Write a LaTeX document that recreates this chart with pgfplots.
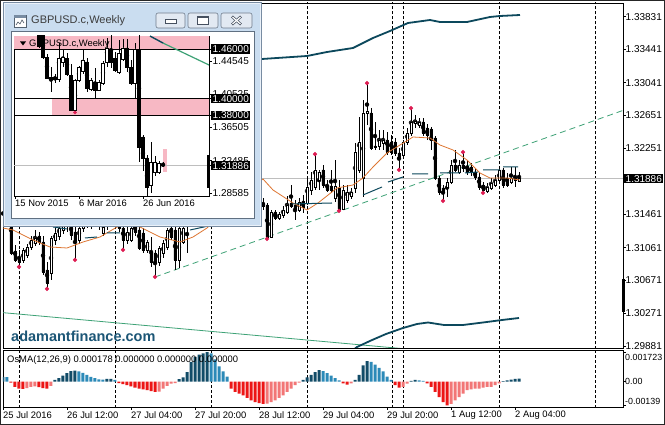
\documentclass[border=0pt]{standalone}
\usepackage{fontspec}
\setmainfont{Liberation Sans}
\usepackage{pgfplots}
\usepackage{pgfplotstable}
\pgfplotsset{compat=1.18}

\definecolor{band}{RGB}{12,72,92}
\definecolor{maor}{RGB}{222,118,50}
\definecolor{trgreen}{RGB}{62,162,118}
\definecolor{fract}{RGB}{222,28,82}
\definecolor{pu}{RGB}{18,76,104}
\definecolor{pd}{RGB}{44,138,184}
\definecolor{nd}{RGB}{236,22,22}
\definecolor{nu}{RGB}{242,118,118}
\definecolor{wm}{RGB}{28,86,118}
\definecolor{winblue}{RGB}{202,221,240}
\definecolor{winedge}{RGB}{120,140,162}
\definecolor{pinkz}{RGB}{247,184,196}
\definecolor{curline}{RGB}{190,190,190}
\definecolor{btn}{RGB}{226,233,242}
\definecolor{btnedge}{RGB}{112,124,140}
\definecolor{glyph}{RGB}{70,80,95}
\definecolor{titletext}{RGB}{60,60,60}

\newcommand\plbl{\fontsize{10}{11}\selectfont}
\newcommand\tlbl{\fontsize{9.4}{10.5}\selectfont}
\newcommand\slbl{\fontsize{8.9}{10}\selectfont}

\pgfplotsset{
  mainpos/.style={at={(3pt,77pt)}, anchor=south west, scale only axis, width=620pt, height=345pt,
    xmin=0, xmax=155, ymin=1.29856, ymax=1.33996},
  insetpos/.style={at={(14pt,229pt)}, anchor=south west, scale only axis, width=195pt, height=160pt,
    xmin=-0.25, xmax=48.5, ymin=1.28222, ymax=1.47572},
}

% H1 candles: index, open, high, low, close
\pgfplotstableread{
i o h l c
0 1.31452 1.31572 1.31368 1.31512
1 1.31512 1.31632 1.31392 1.31452
2 1.31512 1.31572 1.30972 1.30996
3 1.31020 1.31092 1.30888 1.30912
4 1.30936 1.31032 1.30840 1.30888
5 1.30912 1.31056 1.30876 1.31032
6 1.30972 1.31104 1.30936 1.31068
7 1.31068 1.31200 1.31032 1.31152
8 1.31116 1.31272 1.31080 1.31176
9 1.31200 1.31248 1.31092 1.31128
10 1.31128 1.31200 1.30732 1.30768
11 1.30792 1.30888 1.30576 1.30636
12 1.30756 1.31200 1.30672 1.31176
13 1.31152 1.31296 1.31092 1.31236
14 1.31200 1.31368 1.31152 1.31296
15 1.31272 1.31452 1.31224 1.31392
16 1.31392 1.31488 1.31248 1.31320
17 1.31320 1.31416 1.31152 1.31212
18 1.31248 1.31332 1.30924 1.31152
19 1.31152 1.31368 1.31104 1.31296
20 1.31296 1.31452 1.31248 1.31392
21 1.31392 1.31512 1.31296 1.31344
22 1.31344 1.31488 1.31284 1.31440
23 1.31416 1.31536 1.31320 1.31488
24 1.31488 1.31572 1.31272 1.31368
25 1.31236 1.31452 1.31200 1.31308
26 1.31332 1.31452 1.31272 1.31368
27 1.31368 1.31512 1.31320 1.31452
28 1.31452 1.31572 1.31296 1.31392
29 1.31392 1.31512 1.31248 1.31296
30 1.31296 1.31416 1.31044 1.31152
31 1.31152 1.31332 1.31104 1.31248
32 1.31152 1.31320 1.31128 1.31296
33 1.31320 1.31392 1.31200 1.31248
34 1.31272 1.31368 1.31032 1.31056
35 1.31236 1.31296 1.30996 1.31032
36 1.31032 1.31152 1.30996 1.31128
37 1.31008 1.31188 1.30828 1.30888
38 1.30996 1.31032 1.30720 1.30876
39 1.30888 1.31080 1.30840 1.31056
40 1.30996 1.31152 1.30936 1.31116
41 1.31068 1.31296 1.31032 1.31272
42 1.31296 1.31368 1.31152 1.31188
43 1.31272 1.31368 1.30792 1.30912
44 1.30912 1.31320 1.30816 1.31296
45 1.31128 1.31368 1.31104 1.31296
46 1.31320 1.31452 1.30996 1.31368
47 1.31368 1.31572 1.31320 1.31536
48 1.31536 1.31812 1.31488 1.31752
49 1.31752 1.31992 1.31692 1.31932
50 1.31932 1.32112 1.31848 1.32052
51 1.32052 1.32232 1.31968 1.32136
52 1.32136 1.32256 1.32016 1.32088
53 1.32088 1.32232 1.32040 1.32172
54 1.32172 1.32292 1.32052 1.32112
55 1.32112 1.32232 1.31992 1.32052
56 1.32052 1.32172 1.31932 1.31992
57 1.31992 1.32112 1.31812 1.31872
58 1.31872 1.32016 1.31776 1.31944
59 1.31944 1.32040 1.31752 1.31800
60 1.31800 1.31932 1.31692 1.31872
61 1.31872 1.31968 1.31656 1.31704
62 1.31704 1.31848 1.31632 1.31776
63 1.31776 1.31872 1.31572 1.31632
64 1.31632 1.31752 1.31512 1.31572
65 1.31596 1.31656 1.31512 1.31560
66 1.31572 1.31596 1.31176 1.31188
67 1.31188 1.31512 1.31176 1.31488
68 1.31488 1.31512 1.31392 1.31416
69 1.31416 1.31488 1.31392 1.31464
70 1.31452 1.31560 1.31416 1.31512
71 1.31488 1.31680 1.31464 1.31572
72 1.31596 1.31812 1.31536 1.31560
73 1.31572 1.31632 1.31392 1.31524
74 1.31512 1.31656 1.31488 1.31608
75 1.31620 1.31692 1.31476 1.31548
76 1.31596 1.31908 1.31572 1.31788
77 1.31752 1.31968 1.31692 1.31872
78 1.31788 1.32172 1.31752 1.31992
79 1.31872 1.31992 1.31752 1.31968
80 1.31992 1.32052 1.31776 1.31812
81 1.31812 1.31872 1.31728 1.31752
82 1.31800 1.31992 1.31716 1.31752
83 1.31656 1.32112 1.31608 1.31800
84 1.31776 1.31872 1.31512 1.31524
85 1.31524 1.31812 1.31512 1.31752
86 1.31632 1.31812 1.31596 1.31728
87 1.31680 1.31776 1.31644 1.31728
88 1.31776 1.32316 1.31716 1.32208
89 1.31992 1.32628 1.31956 1.32328
90 1.31896 1.32832 1.31668 1.32676
91 1.32676 1.33024 1.32532 1.32700
92 1.32676 1.32736 1.32232 1.32256
93 1.32280 1.32568 1.32232 1.32268
94 1.32280 1.32472 1.32232 1.32352
95 1.32316 1.32472 1.32232 1.32352
96 1.32352 1.32448 1.32172 1.32208
97 1.32328 1.32412 1.32172 1.32208
98 1.32328 1.32376 1.32160 1.32196
99 1.32196 1.32256 1.32004 1.32136
100 1.32172 1.32352 1.32136 1.32328
101 1.32328 1.32496 1.32292 1.32436
102 1.32436 1.32724 1.32400 1.32568
103 1.32556 1.32652 1.32496 1.32580
104 1.32532 1.32616 1.32496 1.32568
105 1.32568 1.32616 1.32400 1.32436
106 1.32496 1.32544 1.32352 1.32412
107 1.32484 1.32508 1.32232 1.32352
108 1.32376 1.32400 1.31872 1.31896
109 1.31896 1.31920 1.31692 1.31728
110 1.31776 1.31812 1.31632 1.31728
111 1.31788 1.31896 1.31668 1.31848
112 1.31848 1.32112 1.31824 1.32052
113 1.32052 1.32232 1.31968 1.31992
114 1.31968 1.32112 1.31944 1.32052
115 1.32052 1.32196 1.31968 1.32016
116 1.32040 1.32112 1.31932 1.31968
117 1.32028 1.32076 1.31920 1.31968
118 1.31968 1.32016 1.31872 1.31908
119 1.31908 1.31956 1.31752 1.31788
120 1.31812 1.31848 1.31728 1.31752
121 1.31740 1.31836 1.31716 1.31788
122 1.31776 1.31896 1.31752 1.31836
123 1.31812 1.31932 1.31788 1.31872
124 1.31872 1.32016 1.31836 1.31992
125 1.31992 1.32016 1.31776 1.31812
126 1.31896 1.31956 1.31788 1.31812
127 1.31848 1.32028 1.31824 1.31896
128 1.31896 1.32028 1.31788 1.31872
129 1.31860 1.31968 1.31848 1.31886
}\candles

% Weekly candles (inset): week index, open, high, low, close
\pgfplotstableread{
i o h l c
6 1.4950 1.5000 1.4610 1.4630
7 1.4780 1.4800 1.4480 1.4503
8 1.4503 1.4540 1.4237 1.4249
9 1.4249 1.4382 1.4080 1.4262
10 1.4262 1.4300 1.4190 1.4235
11 1.4235 1.4669 1.4200 1.4491
12 1.4443 1.4588 1.4382 1.4503
13 1.4491 1.4552 1.4270 1.4290
14 1.4285 1.4420 1.3850 1.3862
15 1.3862 1.4240 1.3838 1.4225
16 1.4225 1.4400 1.4200 1.4382
17 1.4330 1.4588 1.4300 1.4467
18 1.4443 1.4490 1.4080 1.4128
19 1.4116 1.4250 1.4090 1.4225
20 1.4201 1.4370 1.3995 1.4104
21 1.4104 1.4225 1.4090 1.4201
22 1.4189 1.4450 1.4170 1.4431
23 1.4443 1.4733 1.4382 1.4612
24 1.4600 1.4800 1.4370 1.4443
25 1.4491 1.4560 1.4320 1.4346
26 1.4322 1.4709 1.4300 1.4552
27 1.4480 1.4721 1.4450 1.4612
28 1.4612 1.4721 1.4322 1.4382
29 1.4382 1.4467 1.4165 1.4189
30 1.4189 1.4672 1.3995 1.4600
31 1.4588 1.5018 1.3229 1.3415
32 1.3536 1.3560 1.3121 1.3282
33 1.3282 1.3320 1.2810 1.2931
34 1.2955 1.3479 1.2858 1.3233
35 1.3112 1.3300 1.3070 1.3233
36 1.3110 1.3245 1.3090 1.3221
37 1.3210 1.3230 1.3170 1.31886
}\weekly

% OsMA histogram, split by colour class
\pgfplotstableread{
i v
0 0.00028
13 0.00010
14 0.00020
15 0.00035
16 0.00050
17 0.00062
18 0.00064
26 0.00016
27 0.00016
44 0.00015
45 0.00025
46 0.00055
47 0.00115
48 0.00145
49 0.00158
50 0.00165
51 0.00172
75 0.00010
76 0.00025
77 0.00040
78 0.00055
79 0.00068
88 0.00010
89 0.00040
90 0.00095
91 0.00120
102 0.00005
103 0.00010
125 0.00003
126 0.00008
127 0.00012
128 0.00016
129 0.000178
}\oPU
\pgfplotstableread{
i v
1 0.00026
19 0.00060
20 0.00052
21 0.00040
22 0.00028
23 0.00020
24 0.00014
25 0.00012
28 0.00010
52 0.00165
53 0.00130
54 0.00090
55 0.00060
56 0.00030
80 0.00062
81 0.00050
82 0.00035
83 0.00020
84 0.00008
92 0.00115
93 0.00100
94 0.00080
95 0.00060
96 0.00030
97 0.00010
104 0.00008
105 0.00005
}\oPD
\pgfplotstableread{
i v
2 -0.00005
3 -0.00030
4 -0.00040
5 -0.00042
9 -0.00032
10 -0.00038
11 -0.00040
29 -0.00008
30 -0.00015
31 -0.00020
32 -0.00028
33 -0.00035
34 -0.00040
35 -0.00045
36 -0.00050
37 -0.00055
38 -0.00060
57 -0.00040
58 -0.00060
59 -0.00070
60 -0.00080
61 -0.00095
62 -0.00110
63 -0.00120
64 -0.00125
65 -0.00130
85 -0.00010
86 -0.00018
98 -0.00020
99 -0.00035
106 -0.00010
107 -0.00030
108 -0.00060
109 -0.00090
110 -0.00120
111 -0.00138
}\oND
\pgfplotstableread{
i v
6 -0.00038
7 -0.00030
8 -0.00028
12 -0.00025
39 -0.00058
40 -0.00040
41 -0.00025
42 -0.00012
43 -0.00008
66 -0.00128
67 -0.00120
68 -0.00110
69 -0.00095
70 -0.00080
71 -0.00060
72 -0.00040
73 -0.00020
74 -0.00005
87 -0.00010
100 -0.00030
101 -0.00012
112 -0.00130
113 -0.00110
114 -0.00090
115 -0.00070
116 -0.00050
117 -0.00045
118 -0.00040
119 -0.00040
120 -0.00035
121 -0.00030
122 -0.00030
123 -0.00020
124 -0.00010
}\oNU

\begin{document}
\begin{tikzpicture}
\path[use as bounding box, fill=white] (0pt,0pt) rectangle (665pt,425pt);

%================ main price axis
\begin{axis}[mainpos,
  axis background/.style={fill=white},
  axis line style={black, line width=0.8pt},
  xtick=\empty,
  ytick={1.33831,1.33441,1.33041,1.32651,1.32251,1.31461,1.31061,1.30671,1.30271,1.29881},
  yticklabels={1.33831,1.33441,1.33041,1.32651,1.32251,1.31461,1.31061,1.30671,1.30271,1.29881},
  extra y ticks={1.31886}, extra y tick labels={1.31886},
  extra y tick style={yticklabel style={fill=black, text=white}},
  scaled y ticks=false,
  ytick pos=right, yticklabel pos=right,
  tick align=outside, major tick length=3pt,
  tick style={black, line width=0.6pt},
  yticklabel style={font=\plbl, anchor=west, inner xsep=1.5pt, inner ysep=1pt, xshift=-2pt},
]
\pgfplotsinvokeforeach{4,28,52,76,97.25,100,124,148}{
  \addplot[black, line width=0.7pt, dash pattern=on 3pt off 2pt] coordinates {(#1,1.29) (#1,1.35)};
}
\addplot[curline, line width=0.8pt] coordinates {(0,1.31886) (155,1.31886)};
\addplot[trgreen, line width=0.8pt] coordinates {(0,1.30280) (100,1.29848)};
\addplot[trgreen, line width=0.8pt, dash pattern=on 6pt off 4pt] coordinates {(38,1.30708) (155,1.32707)};
\addplot[band, line width=1.8pt] coordinates {
 (86,1.29772) (88.5,1.29868) (92,1.29946) (95.75,1.30024) (100,1.30096) (103.5,1.30144)
 (106.25,1.30162) (110.25,1.30132) (115,1.30132) (120,1.30162) (124.75,1.30192) (129,1.30216)};
\addplot[band, line width=1.8pt] coordinates {
 (60,1.33290) (64.75,1.33324) (76,1.33360) (81,1.33408) (87.5,1.33456) (92.5,1.33576)
 (96.75,1.33660) (101.25,1.33756) (106.75,1.33792) (109.25,1.33768) (116,1.33768)
 (121.75,1.33828) (124.25,1.33840) (129.25,1.33852)};
\addplot[black, only marks, mark=none,
  error bars/.cd, y dir=both, y explicit, error mark=none,
  error bar style={draw=black, line width=0.8pt}]
  table[x=i, y expr={(\thisrow{h}+\thisrow{l})/2}, y error expr={(\thisrow{h}-\thisrow{l})/2}] {\candles};
\end{axis}

%================ candle bodies
\begin{axis}[mainpos, hide axis, ybar stacked, bar width=2.2pt]
\addplot[draw=none, fill=none] table[x=i, y expr={min(\thisrow{o},\thisrow{c})}] {\candles};
\addplot[fill=white, draw=black, line width=0.8pt] table[x=i, y expr={max(\thisrow{c}-\thisrow{o},0)}] {\candles};
\addplot[fill=black, draw=black, line width=0.8pt] table[x=i, y expr={max(\thisrow{o}-\thisrow{c},0)}] {\candles};
\end{axis}

%================ overlays: MA, middle band, fractals
\begin{axis}[mainpos, hide axis, clip=false, unbounded coords=jump]
\addplot[maor, line width=0.8pt] coordinates {
 (0,1.31296) (2.5,1.31272) (7.5,1.31152) (11.75,1.31068) (16,1.31056) (20,1.31128)
 (24.25,1.31188) (28.5,1.31308) (31.25,1.31344) (34.25,1.31308) (39.25,1.31188)
 (44.25,1.31128) (47.5,1.31188) (51,1.31296) (54.25,1.31452) (58,1.31632) (61.75,1.31776)
 (65,1.31884) (67.5,1.31752) (72.5,1.31596) (76,1.31512) (78.75,1.31596) (83.5,1.31776)
 (87.5,1.31812) (90,1.31896) (92.5,1.32028) (96,1.32196) (99.25,1.32292) (102.5,1.32388)
 (106.75,1.32376) (109.25,1.32292) (112.5,1.32232) (116,1.32112) (119.25,1.31956)
 (121.75,1.31896) (126,1.31896) (129.25,1.31872)};
\addplot[band, line width=1pt] coordinates {
 (12.5,1.31308) (16,1.31284) (16.5,nan)
 (20.5,1.31176) (23.5,1.31188) (24,nan)
 (26,1.31236) (29.25,1.31236) (30,nan)
 (46.75,1.31272) (52.5,1.31332) (53,nan)
 (72.25,1.31584) (82.25,1.31596) (83,nan)
 (90,1.31692) (94.75,1.31788) (95,nan)
 (96.25,1.31848) (100,1.31908) (101,nan)
 (102.25,1.31944) (106.25,1.31944) (107,nan)
 (109.25,1.31956) (114.25,1.31956) (115,nan)
 (115.5,1.31956) (118.75,1.31968) (119,nan)
 (120,1.31992) (124.25,1.31992) (124.5,nan)
 (125,1.32028) (128.75,1.32028)};
\addplot[only marks, mark=*, mark size=1.9pt, color=fract] coordinates {
 (4,1.30830) (11,1.30566) (18,1.30914) (30,1.31034) (38,1.30710) (66,1.31166)
 (84,1.31502) (99,1.31994) (110,1.31622) (120,1.31718)
 (78,1.32182) (91,1.33034) (102,1.32734) (115,1.32206)};
\addplot[black, line width=3pt] coordinates {(155,1.30684) (155,1.30288)};
\end{axis}

\node[anchor=base west, text=wm, font=\fontsize{14.5}{16}\selectfont\bfseries, inner sep=0pt] at (11pt,83pt) {adamantfinance.com};

%================ OsMA sub-window
\begin{axis}[at={(3pt,18pt)}, anchor=south west, scale only axis, width=620pt, height=57pt,
  xmin=0, xmax=155, ymin=-0.00148, ymax=0.00185,
  axis background/.style={fill=white},
  axis line style={black, line width=0.8pt},
  xtick={0,16,32,48,64,80,96,112,128},
  xticklabels={25 Jul 2016,26 Jul 12:00,27 Jul 04:00,27 Jul 20:00,28 Jul 12:00,29 Jul 04:00,29 Jul 20:00,1 Aug 12:00,2 Aug 04:00},
  xtick pos=bottom, xticklabel style={font=\tlbl, anchor=north west, inner xsep=0pt, inner ysep=1pt},
  ytick={-0.00139,0,0.001723},
  yticklabels={\raisebox{1.1pt}[0pt][0pt]{-0.00139},\raisebox{-3.2pt}[0pt][0pt]{0.00},\raisebox{-8.2pt}[0pt][0pt]{0.001723}},
  scaled y ticks=false,
  ytick pos=right, yticklabel pos=right,
  tick align=outside, major tick length=3pt, tick style={black, line width=0.6pt},
  yticklabel style={font=\slbl, anchor=west, inner xsep=1pt, xshift=-2pt},
]
\pgfplotsinvokeforeach{4,28,52,76,97.25,100,124,148}{
  \addplot[black, line width=0.7pt, dash pattern=on 3pt off 2pt] coordinates {(#1,-0.01) (#1,0.01)};
}
\addplot[ybar, bar width=3pt, bar shift=0pt, fill=pu, draw=none] table[x=i, y=v] {\oPU};
\addplot[ybar, bar width=3pt, bar shift=0pt, fill=pd, draw=none] table[x=i, y=v] {\oPD};
\addplot[ybar, bar width=3pt, bar shift=0pt, fill=nd, draw=none] table[x=i, y=v] {\oND};
\addplot[ybar, bar width=3pt, bar shift=0pt, fill=nu, draw=none] table[x=i, y=v] {\oNU};
\end{axis}
\node[anchor=west, inner sep=0pt, font=\tlbl] at (7pt,65pt) {OsMA(12,26,9) 0.000178 0.000000 0.000000 0.000000};

%================ inset window frame
\begin{scope}[shift={(0pt,425pt)}, x=1pt, y=-1pt]
  \fill[winblue] (3,2) rectangle (262,227);
  \draw[winedge, line width=0.8pt] (3.4,2.4) rectangle (261.6,226.6);
  \draw[white!60!winblue, line width=0.6pt] (4.6,3.6) rectangle (260.4,225.4);
  \fill[white] (11,31) rectangle (254,218);
  \draw[winedge!80!black, line width=0.6pt] (11,31) rectangle (254,218);
  \draw[fill=white, draw=winedge!70!black, line width=0.6pt] (14,15) rectangle (26,27);
  \fill[winedge] (14.3,15.3) rectangle (25.7,18);
  \draw[winedge!60!black, line width=0.6pt] (16,25) -- (18,22) -- (20,24) -- (22,20) -- (24,23);
  \node[anchor=west, inner sep=0pt, text=titletext, font=\fontsize{11}{12}\selectfont] at (31,21) {GBPUSD.c,Weekly};
  \foreach \a/\b in {156/185,188/218,221/252}{
    \draw[rounded corners=2pt, fill=btn, draw=btnedge, line width=0.6pt] (\a,13) rectangle (\b,28);
  }
  \draw[glyph, fill=white, line width=0.7pt] (165,19.5) rectangle (176,23.5);
  \draw[glyph, fill=white, line width=0.7pt] (197.5,16.5) rectangle (208.5,24.5);
  \draw[glyph, line width=1.2pt] (197.5,17.5) -- (208.5,17.5);
  \draw[glyph, line width=2.6pt] (232,16.5) -- (241,24.5) (241,16.5) -- (232,24.5);
  \draw[white, line width=1.2pt] (232.5,17) -- (240.5,24) (240.5,17) -- (232.5,24);
\end{scope}

%================ inset weekly chart
\begin{axis}[insetpos,
  axis background/.style={fill=white},
  axis line style={black, line width=0.8pt},
  xtick={0,16,32}, xticklabels={15 Nov 2015,6 Mar 2016,26 Jun 2016},
  xtick pos=bottom, xticklabel style={font=\tlbl, anchor=north west, inner xsep=0pt, inner ysep=1pt},
  ytick={1.44545,1.40525,1.36505,1.32485,1.28585},
  yticklabels={1.44545,1.40525,1.36505,1.32485,1.28585},
  extra y ticks={1.46,1.40,1.38,1.31886},
  extra y tick labels={1.46000,1.40000,1.38000,1.31886},
  extra y tick style={yticklabel style={fill=black, text=white}},
  scaled y ticks=false,
  ytick pos=right, yticklabel pos=right,
  tick align=outside, major tick length=3pt, tick style={black, line width=0.6pt},
  yticklabel style={font=\plbl, anchor=west, inner xsep=1.5pt, inner ysep=1pt, xshift=-1pt},
]
\addplot[fill=pinkz, draw=none] coordinates {(-0.25,1.46) (48.5,1.46) (48.5,1.4757) (-0.25,1.4757)} -- cycle;
\addplot[fill=pinkz, draw=none] coordinates {(9.25,1.38) (48.5,1.38) (48.5,1.40) (9.25,1.40)} -- cycle;
\addplot[fill=pinkz, draw=none] coordinates {(36.9,1.3112) (37.9,1.3112) (37.9,1.3391) (36.9,1.3391)} -- cycle;
\addplot[black, line width=0.8pt] coordinates {(-0.25,1.46) (48.5,1.46)};
\addplot[black, line width=0.8pt] coordinates {(-0.25,1.40) (48.5,1.40)};
\addplot[black, line width=0.8pt] coordinates {(-0.25,1.38) (48.5,1.38)};
\addplot[curline, line width=0.8pt] coordinates {(-0.25,1.31886) (48.5,1.31886)};
\addplot[trgreen, line width=1.2pt] coordinates {(37,1.4672) (48.5,1.44065)};
\addplot[band, line width=1.4pt] coordinates {(33.75,1.4757) (37,1.4672)};
\addplot[black, only marks, mark=none,
  error bars/.cd, y dir=both, y explicit, error mark=none,
  error bar style={draw=black, line width=0.8pt}]
  table[x=i, y expr={(\thisrow{h}+\thisrow{l})/2}, y error expr={(\thisrow{h}-\thisrow{l})/2}] {\weekly};
\end{axis}
\begin{axis}[insetpos, hide axis, ybar stacked, bar width=2.2pt]
\addplot[draw=none, fill=none] table[x=i, y expr={min(\thisrow{o},\thisrow{c})}] {\weekly};
\addplot[fill=white, draw=black, line width=0.8pt] table[x=i, y expr={max(\thisrow{c}-\thisrow{o},0)}] {\weekly};
\addplot[fill=black, draw=black, line width=0.8pt] table[x=i, y expr={max(\thisrow{o}-\thisrow{c},0)}] {\weekly};
\end{axis}
\begin{axis}[insetpos, hide axis, clip=false]
\addplot[only marks, mark=*, mark size=1.7pt, color=fract] coordinates {(15,1.3832)};
\addplot[black, line width=3pt] coordinates {(48.5,1.3318) (48.5,1.2919)};
\end{axis}
\begin{scope}[shift={(0pt,425pt)}, x=1pt, y=-1pt]
  \fill[black] (20,41.5) -- (26,41.5) -- (23,45.5) -- cycle;
  \node[anchor=west, inner sep=0pt, font=\tlbl] at (29,44) {GBPUSD.c,Weekly};
\end{scope}

\draw[black!85, line width=0.8pt] (0.4pt,0.4pt) rectangle (664.6pt,424.6pt);
\end{tikzpicture}
\end{document}
